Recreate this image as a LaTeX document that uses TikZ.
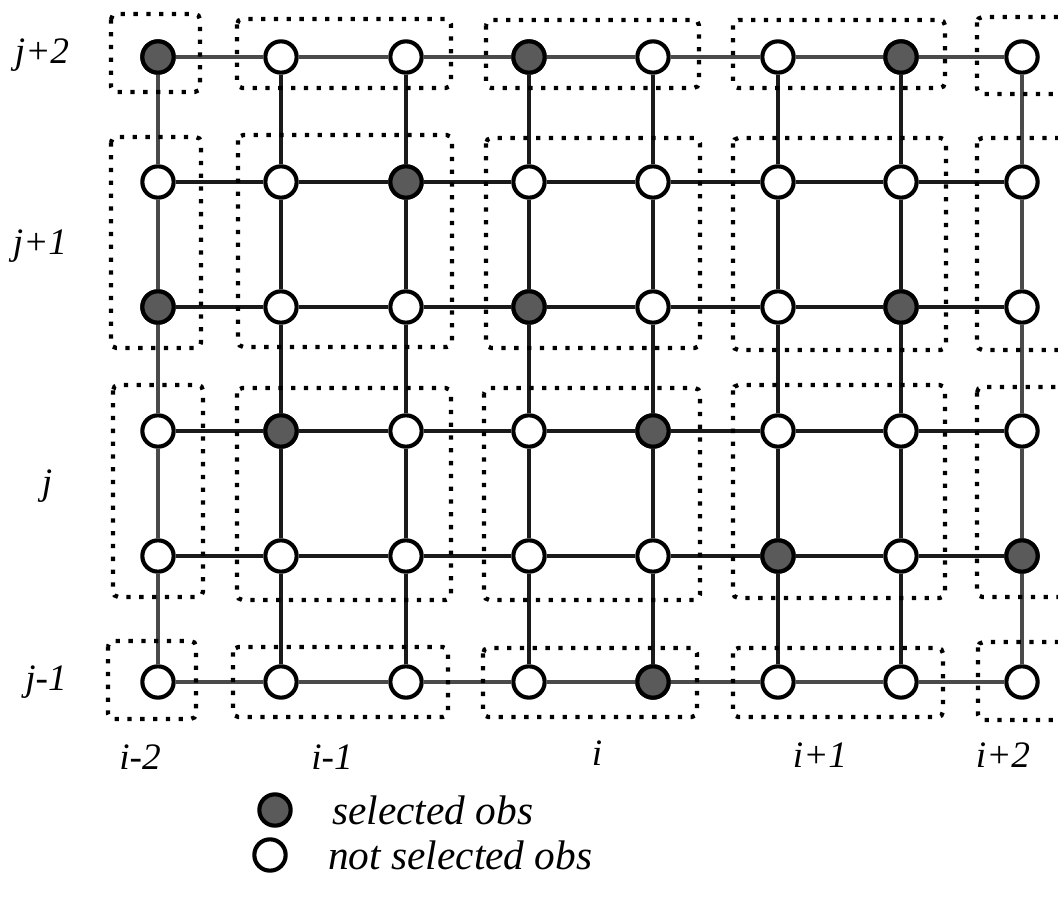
\documentclass[tikz,border=0pt]{standalone}
\usepackage{fontspec}
\setmainfont{Liberation Serif}
\definecolor{selgray}{HTML}{5A5A5A}
\definecolor{linedark}{HTML}{1A1A1A}
\definecolor{linegray}{HTML}{4A4A4A}
\pgfdeclarelayer{bg}
\pgfsetlayers{bg,main}
\begin{document}
\begin{tikzpicture}[x=0.75pt,y=-0.75pt,
  obs/.style={circle,draw=black,line width=3.1pt,minimum size=23.5pt,inner sep=0pt},
  nsel/.style={obs,fill=white},
  sel/.style={obs,fill=selgray},
  gridline/.style={line width=3.3pt,draw=linedark},
  outerline/.style={line width=2.9pt,draw=linegray},
  dotbox/.style={line width=3.2pt,dash pattern=on 3.2pt off 6.4pt,rounded corners=4pt},
  lab/.style={font=\fontsize{28}{33}\selectfont\itshape,inner sep=0pt},
  legtext/.style={font=\fontsize{31}{37}\selectfont\itshape,inner sep=0pt,anchor=west}]
\useasboundingbox (0,0) rectangle (1058,913);
% nodes
\foreach \x [count=\c] in {158,281,406,529,653,778,901,1022}{
  \foreach \y [count=\r] in {57,182,307,431,556,682}{
    \node[nsel] (n\c-\r) at (\x,\y) {};
  }
}
\foreach \c/\r/\x/\y in {1/1/158/57,4/1/529/57,7/1/901/57,3/2/406/182,1/3/158/307,4/3/529/307,7/3/901/307,2/4/281/431,5/4/653/431,6/5/778/556,8/5/1022/556,5/6/653/682}{
  \node[sel] (n\c-\r) at (\x,\y) {};
}
\begin{pgfonlayer}{bg}
% horizontal connectors
\foreach \r in {1,...,6}{
  \foreach \c [evaluate=\c as \d using int(\c+1)] in {1,...,7}{
    \ifnum\r=1 \draw[outerline] (n\c-\r) -- (n\d-\r);
    \else\ifnum\r=6 \draw[outerline] (n\c-\r) -- (n\d-\r);
    \else \draw[gridline] (n\c-\r) -- (n\d-\r);\fi\fi
  }
}
% vertical connectors
\foreach \c in {1,...,8}{
  \foreach \r [evaluate=\r as \s using int(\r+1)] in {1,...,5}{
    \ifnum\c=1 \draw[outerline] (n\c-\r) -- (n\c-\s);
    \else\ifnum\c=8 \draw[outerline] (n\c-\r) -- (n\c-\s);
    \else \draw[gridline] (n\c-\r) -- (n\c-\s);\fi\fi
  }
}
% dotted groups
\draw[dotbox] (111,14) rectangle (200,92);
\draw[dotbox] (237,19) rectangle (451,88);
\draw[dotbox] (486,20) rectangle (699,88);
\draw[dotbox] (733,20) rectangle (945,88);
\draw[dotbox] (977,17) rectangle (1075,94);
\draw[dotbox] (111,137) rectangle (201,348);
\draw[dotbox] (238,135) rectangle (452,347);
\draw[dotbox] (486,138) rectangle (700,348);
\draw[dotbox] (733,138) rectangle (946,350);
\draw[dotbox] (977,138) rectangle (1075,350);
\draw[dotbox] (113,385) rectangle (203,597);
\draw[dotbox] (237,388) rectangle (451,600);
\draw[dotbox] (484,388) rectangle (700,600);
\draw[dotbox] (733,385) rectangle (945,598);
\draw[dotbox] (977,387) rectangle (1075,597);
\draw[dotbox] (108,641) rectangle (196,719);
\draw[dotbox] (233,647) rectangle (448,717);
\draw[dotbox] (483,648) rectangle (697,717);
\draw[dotbox] (733,648) rectangle (943,717);
\draw[dotbox] (978,642) rectangle (1075,720);
\end{pgfonlayer}
% labels
\node[lab] (lj2) at (42,55) {j+2};
\node[lab] (lj1) at (40,246) {j+1};
\node[lab] (lj0) at (47,486) {j};
\node[lab] (ljm) at (46,682) {j-1};
\node[lab] (lim2) at (140,757) {i-2};
\node[lab] (lim1) at (332,757) {i-1};
\node[lab] (li0) at (597,753) {i};
\node[lab] (lip1) at (820,755) {i+1};
\node[lab] (lip2) at (1003,755) {i+2};
% legend
\node[sel] (leg1) at (275,810) {};
\node[legtext] (legt1) at (332,810) {selected obs};
\node[nsel] (leg2) at (270,855) {};
\node[legtext] (legt2) at (328,855) {not selected obs};
\end{tikzpicture}
\end{document}
